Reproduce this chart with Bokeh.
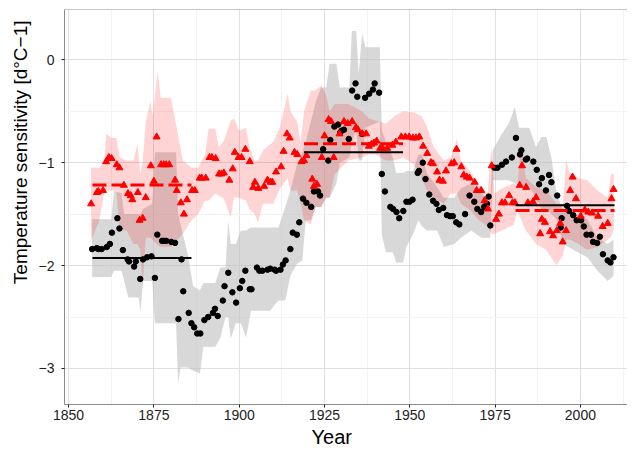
from bokeh.plotting import figure
from bokeh.models import Range1d, FixedTicker, Title, Span
from bokeh.embed import file_html
from bokeh.resources import INLINE

# ---- black series (circles) ----
black_year = [1856.9, 1858.3, 1858.7, 1859.7, 1861.2, 1862.1, 1862.7, 1864.3, 1864.9, 1865.9,
              1867.3, 1867.7, 1869.2, 1869.7, 1871.0, 1871.8, 1873.0, 1874.3, 1875.3, 1876.0,
              1877.4, 1877.9, 1878.6, 1880.1, 1881.2, 1882.2, 1883.1, 1883.6, 1885.2, 1886.0,
              1886.8, 1887.7, 1888.6, 1889.8, 1890.9, 1892.3, 1892.9, 1893.7, 1895.2, 1895.7,
              1896.8, 1898.0, 1899.1, 1900.2, 1900.9, 1901.8, 1903.1, 1903.6, 1905.2, 1905.9,
              1906.8, 1908.3, 1909.1, 1910.4, 1910.8, 1912.1, 1912.8, 1913.6, 1915.0, 1915.7,
              1916.9, 1917.6, 1918.7, 1919.7, 1921.1, 1921.9, 1923.1, 1923.7, 1924.6, 1926.1,
              1926.7, 1927.9, 1929.0, 1929.6, 1930.0, 1930.7, 1932.1, 1933.1, 1934.1, 1934.6,
              1936.0, 1936.9, 1938.1, 1939.2, 1939.7, 1941.0, 1941.8, 1942.7, 1944.3, 1945.1,
              1946.1, 1946.9, 1948.1, 1949.0, 1949.9, 1950.8, 1952.3, 1952.7, 1953.8, 1954.6,
              1955.7, 1956.8, 1957.8, 1958.5, 1959.8, 1960.9, 1961.8, 1962.6, 1963.6, 1964.5,
              1966.2, 1967.5, 1968.9, 1969.8, 1970.9, 1971.8, 1972.6, 1973.1, 1973.6, 1974.8,
              1975.7, 1977.0, 1978.2, 1979.9, 1981.1, 1982.3, 1982.7, 1984.0, 1984.4, 1986.2,
              1987.2, 1987.9, 1988.7, 1989.9, 1990.8, 1991.5, 1993.2, 1994.2, 1994.5, 1996.1,
              1996.7, 1997.9, 1998.9, 2000.2, 2001.0, 2001.8, 2003.1, 2003.7, 2004.9, 2005.7,
              2006.6, 2008.0, 2008.8, 2009.7]
black_val = [-1.84, -1.83, -1.84, -1.84, -1.82, -1.79, -1.68, -1.54, -1.64, -1.85,
             -1.94, -1.96, -2.01, -1.96, -2.13, -1.94, -1.92, -1.91, -2.12, -1.70,
             -1.76, -1.76, -1.76, -1.77, -1.78, -2.52, -1.94, -2.25, -2.46, -2.56,
             -2.60, -2.66, -2.66, -2.53, -2.50, -2.46, -2.42, -2.49, -2.34, -2.20,
             -2.07, -2.26, -2.36, -2.22, -2.15, -2.05, -2.23, -2.23, -2.02, -2.05,
             -2.05, -2.04, -2.03, -2.04, -2.05, -2.04, -1.99, -1.95, -1.84, -1.68,
             -1.70, -1.58, -1.35, -1.39, -1.43, -1.28, -1.28, -1.32, -0.87, -0.98,
             -0.78, -0.65, -0.63, -0.71, -0.69, -0.68, -0.77, -0.30, -0.23, -0.36,
             -0.72, -0.37, -0.33, -0.29, -0.23, -0.32, -1.11, -1.28, -1.43, -1.45,
             -1.48, -1.54, -1.47, -1.38, -1.38, -1.36, -1.10, -1.08, -1.00, -1.16,
             -1.31, -1.37, -1.40, -1.46, -1.44, -1.51, -1.52, -1.52, -1.58, -1.60,
             -1.50, -1.32, -1.38, -1.45, -1.48, -1.43, -1.40, -1.33, -1.61, -1.05,
             -1.05, -1.02, -0.99, -0.95, -0.76, -0.92, -0.88, -0.97, -0.96, -0.99,
             -1.07, -1.21, -1.15, -1.27, -1.12, -1.19, -1.32, -1.63, -1.54, -1.42,
             -1.47, -1.51, -1.56, -1.56, -1.62, -1.70, -1.70, -1.77, -1.78, -1.72,
             -1.89, -1.95, -1.97, -1.92]

# ---- red series (triangles) ----
red_year = [1856.6, 1858.3, 1858.7, 1860.1, 1861.0, 1861.8, 1862.6, 1864.1, 1864.9, 1866.2,
            1867.4, 1868.2, 1868.7, 1870.3, 1870.8, 1871.7, 1872.6, 1874.1, 1875.0, 1875.8,
            1877.1, 1877.9, 1878.6, 1879.5, 1881.2, 1881.7, 1882.9, 1883.8, 1884.7, 1886.2,
            1887.0, 1888.4, 1889.0, 1890.2, 1891.3, 1892.0, 1893.1, 1894.1, 1894.8, 1895.5,
            1897.1, 1898.1, 1898.7, 1899.8, 1900.7, 1901.8, 1903.1, 1904.1, 1904.6, 1905.6,
            1907.3, 1908.3, 1909.2, 1909.7, 1910.8, 1912.3, 1913.0, 1914.0, 1914.8, 1916.2,
            1917.0, 1918.3, 1919.0, 1919.7, 1921.4, 1921.9, 1922.8, 1924.2, 1925.0, 1926.2,
            1926.9, 1927.7, 1929.4, 1930.7, 1931.8, 1933.1, 1934.2, 1934.8, 1936.1, 1937.2,
            1938.0, 1938.8, 1939.5, 1940.3, 1941.3, 1942.0, 1943.4, 1944.9, 1945.9, 1947.5,
            1948.7, 1949.8, 1950.9, 1951.8, 1952.8, 1953.9, 1955.1, 1956.2, 1956.8, 1958.0,
            1958.7, 1959.7, 1960.6, 1962.2, 1963.0, 1963.7, 1965.1, 1965.8, 1966.7, 1967.5,
            1969.0, 1969.6, 1970.9, 1971.9, 1972.9, 1974.0, 1975.3, 1976.1, 1977.0, 1977.9,
            1979.1, 1980.1, 1980.8, 1982.2, 1982.9, 1984.1, 1984.6, 1986.1, 1987.0, 1988.2,
            1988.7, 1989.6, 1991.1, 1992.0, 1993.1, 1994.1, 1994.8, 1995.8, 1997.0, 1997.7,
            1998.7, 2000.1, 2001.3, 2002.3, 2003.4, 2005.2, 2006.5, 2008.0, 2009.1, 2009.7]
red_val = [-1.40, -1.29, -1.28, -1.27, -0.99, -0.95, -0.96, -1.02, -1.05, -1.22,
           -1.30, -1.32, -1.36, -1.29, -1.56, -1.54, -1.34, -1.03, -1.18, -0.75,
           -1.02, -1.02, -1.02, -1.02, -1.17, -1.27, -1.39, -1.50, -1.36, -1.27,
           -1.27, -1.15, -1.15, -1.15, -0.95, -0.95, -0.96, -1.11, -1.11, -1.10,
           -1.17, -1.06, -0.90, -0.95, -0.95, -0.87, -0.99, -1.24, -1.19, -1.25,
           -1.23, -1.17, -1.19, -1.19, -1.09, -1.04, -0.89, -0.72, -0.76, -0.90,
           -0.92, -0.99, -0.98, -0.93, -1.16, -1.23, -1.21, -0.95, -0.74, -0.58,
           -0.60, -0.95, -0.72, -0.60, -0.62, -0.60, -0.66, -0.68, -0.72, -0.72,
           -0.84, -0.82, -0.81, -0.79, -0.86, -0.86, -0.86, -0.83, -0.80, -0.75,
           -0.75, -0.75, -0.76, -0.76, -0.75, -0.84, -0.91, -1.00, -1.01, -1.09,
           -1.17, -1.18, -1.08, -1.01, -1.00, -0.87, -1.04, -1.12, -1.14, -1.15,
           -1.19, -1.27, -1.27, -1.37, -1.45, -1.03, -1.55, -1.50, -1.39, -1.39,
           -1.32, -1.39, -1.39, -1.22, -1.03, -1.24, -1.39, -1.38, -1.34, -1.69,
           -1.55, -1.58, -1.67, -1.71, -1.66, -1.59, -1.77, -1.66, -1.27, -1.14,
           -1.35, -1.52, -1.46, -1.48, -1.49, -1.52, -1.62, -1.59, -1.35, -1.26]

# ---- uncertainty band of the black series ----
gray_year = [1856.9, 1862.5, 1863.3, 1865.5, 1866.3, 1867.5, 1870.5, 1871.1, 1871.8, 1874.5,
             1875.3, 1881.5, 1882.1, 1882.8, 1885.0, 1886.5, 1888.5, 1889.5, 1893.0, 1894.5,
             1896.0, 1896.8, 1897.5, 1899.0, 1900.5, 1902.0, 1903.5, 1909.0, 1911.5, 1913.5,
             1915.0, 1917.0, 1918.5, 1919.5, 1921.0, 1922.5, 1924.0, 1925.5, 1926.5, 1928.5,
             1929.5, 1932.3, 1933.0, 1934.3, 1935.0, 1936.0, 1937.0, 1941.2, 1941.8, 1943.0,
             1945.0, 1946.0, 1948.0, 1949.0, 1951.0, 1952.5, 1953.6, 1955.0, 1958.0, 1960.0,
             1963.0, 1965.0, 1968.0, 1971.0, 1973.6, 1974.3, 1977.0, 1979.0, 1980.8, 1982.0,
             1985.0, 1987.0, 1988.5, 1990.0, 1991.5, 1993.0, 1995.0, 1998.0, 2002.0, 2005.0,
             2008.0, 2009.7]
gray_hi = [-1.55, -1.55, -1.27, -1.30, -1.50, -1.50, -1.50, -1.50, -1.45, -1.40,
           -0.90, -0.90, -1.50, -1.60, -1.90, -2.20, -2.24, -2.17, -2.17, -2.02,
           -2.02, -1.56, -1.79, -1.79, -1.66, -1.66, -1.63, -1.63, -1.63, -1.43,
           -1.27, -1.01, -0.90, -0.80, -0.60, -0.40, -0.27, -0.27, -0.04, -0.04,
           -0.27, -0.27, 0.28, 0.28, -0.14, 0.25, 0.12, 0.12, -0.69, -0.80,
           -0.95, -1.10, -1.10, -1.08, -1.08, -0.92, -0.92, -1.10, -1.24, -1.34,
           -1.34, -1.25, -1.20, -1.30, -1.37, -0.88, -0.72, -0.62, -0.46, -0.66,
           -0.66, -0.85, -0.75, -0.75, -0.95, -1.30, -1.47, -1.50, -1.55, -1.73,
           -1.79, -1.75]
gray_lo = [-2.11, -2.11, -2.05, -2.05, -2.15, -2.31, -2.31, -2.45, -2.15, -2.15,
           -2.56, -2.56, -3.15, -2.99, -2.99, -3.02, -3.05, -2.79, -2.79, -2.70,
           -2.50, -2.50, -2.71, -2.56, -2.56, -2.70, -2.44, -2.44, -2.34, -2.34,
           -2.10, -1.98, -1.95, -1.56, -1.56, -1.43, -1.43, -1.34, -1.34, -1.20,
           -1.00, -0.95, -0.82, -0.66, -0.98, -0.98, -0.66, -0.60, -1.70, -1.87,
           -1.87, -1.97, -1.97, -1.82, -1.69, -1.56, -1.62, -1.66, -1.66, -1.82,
           -1.79, -1.73, -1.66, -1.73, -1.73, -1.17, -1.17, -1.17, -1.20, -1.24,
           -1.24, -1.34, -1.45, -1.45, -1.50, -1.55, -1.79, -1.85, -1.92, -2.05,
           -2.15, -2.10]

# ---- uncertainty band of the red series ----
pink_year = [1856.6, 1859.0, 1860.4, 1861.0, 1862.5, 1864.0, 1865.0, 1867.0, 1869.0, 1870.2,
             1871.0, 1871.7, 1872.6, 1874.0, 1874.6, 1876.1, 1877.0, 1880.0, 1883.5, 1886.0,
             1888.0, 1890.0, 1891.0, 1893.0, 1894.0, 1895.5, 1897.5, 1898.5, 1900.0, 1902.0,
             1903.0, 1904.5, 1905.5, 1907.0, 1910.0, 1912.0, 1914.2, 1915.0, 1917.0, 1918.0,
             1919.0, 1921.0, 1922.3, 1924.0, 1925.5, 1926.5, 1928.0, 1932.0, 1936.0, 1938.0,
             1940.0, 1943.0, 1945.5, 1948.0, 1951.0, 1953.5, 1955.0, 1957.0, 1960.0, 1962.0,
             1963.8, 1965.0, 1968.0, 1970.0, 1972.8, 1973.9, 1974.8, 1977.0, 1980.5, 1981.5,
             1982.6, 1984.0, 1987.0, 1990.0, 1993.0, 1994.9, 1995.8, 1997.0, 1999.5, 2002.0,
             2005.0, 2008.0, 2009.0, 2009.8]
pink_hi = [-1.05, -1.05, -1.00, -0.72, -0.76, -0.76, -0.95, -0.98, -0.98, -0.82,
           -1.11, -1.00, -0.60, -0.40, -0.55, -0.11, -0.37, -0.37, -0.98, -1.05,
           -1.05, -0.92, -0.67, -0.67, -0.85, -0.79, -0.59, -0.57, -0.69, -0.66,
           -0.85, -0.98, -0.98, -0.88, -0.80, -0.65, -0.33, -0.50, -0.60, -0.80,
           -0.50, -0.30, -0.30, -0.25, -0.35, -0.50, -0.43, -0.43, -0.50, -0.57,
           -0.59, -0.62, -0.55, -0.50, -0.51, -0.55, -0.65, -0.85, -0.98, -0.95,
           -0.77, -0.98, -1.10, -1.20, -1.30, -0.85, -1.30, -1.25, -1.20, -1.24,
           -0.82, -1.15, -1.24, -1.27, -1.40, -1.40, -0.98, -1.11, -1.15, -1.17,
           -1.27, -1.34, -1.11, -1.11]
pink_lo = [-1.76, -1.56, -1.30, -1.27, -1.27, -1.27, -1.66, -1.66, -1.79, -1.79,
           -1.85, -2.21, -1.73, -1.73, -1.75, -1.80, -1.82, -1.82, -1.69, -1.56,
           -1.50, -1.37, -1.37, -1.30, -1.32, -1.35, -1.53, -1.34, -1.34, -1.37,
           -1.45, -1.50, -1.58, -1.40, -1.40, -1.25, -1.15, -1.27, -1.27, -1.40,
           -1.56, -1.60, -1.43, -1.43, -1.34, -1.34, -1.11, -0.98, -0.95, -0.92,
           -0.92, -0.98, -0.98, -0.95, -1.01, -1.15, -1.27, -1.34, -1.40, -1.30,
           -1.30, -1.40, -1.47, -1.55, -1.62, -1.69, -1.69, -1.66, -1.60, -1.47,
           -1.55, -1.66, -1.79, -1.85, -2.00, -1.90, -1.75, -1.75, -1.79, -1.85,
           -1.82, -1.75, -1.72, -1.65]

# ---- 30-year period means ----
period_start = [1857, 1919, 1981]
period_end = [1886, 1948, 2010]
black_mean = [-1.926, -0.900, -1.415]
red_mean = [-1.217, -0.816, -1.466]

x_ticks = [1850, 1875, 1900, 1925, 1950, 1975, 2000]
x_minor = [1862.5, 1887.5, 1912.5, 1937.5, 1962.5, 1987.5, 2012.5]
y_ticks = [-3, -2, -1, 0]
y_tick_labels = ["\u22123", "\u22122", "\u22121", "0"]
y_minor = [-2.5, -1.5, -0.5]

FONT = "Liberation Sans"
Y_TOP = 0.488

p = figure(width=627, height=449,
           x_range=Range1d(1848.8, 2013.8), y_range=Range1d(-3.35, Y_TOP),
           output_backend="svg", toolbar_location=None,
           min_border_left=64, min_border_right=0, min_border_top=9, min_border_bottom=44)
p.background_fill_color = "white"
p.border_fill_color = "white"
p.outline_line_color = None

# axes
p.xaxis.ticker = FixedTicker(ticks=x_ticks, minor_ticks=x_minor)
p.yaxis.ticker = FixedTicker(ticks=y_ticks, minor_ticks=y_minor)
p.yaxis.major_label_overrides = {t: s for t, s in zip(y_ticks, y_tick_labels)}
for ax in (p.xaxis, p.yaxis):
    ax.axis_line_color = "#8C8C8C"
    ax.major_tick_line_color = "#222222"
    ax.major_tick_in = 0
    ax.major_tick_out = 3
    ax.minor_tick_line_color = None
    ax.major_label_text_font = FONT
    ax.major_label_text_font_size = "14px"
    ax.major_label_text_color = "#222222"
p.xaxis.major_label_standoff = 1
p.yaxis.major_label_standoff = 6

p.xgrid.grid_line_color = "#E0E0E0"
p.ygrid.grid_line_color = "#E0E0E0"
p.xgrid.minor_grid_line_color = "#F3F3F3"
p.ygrid.minor_grid_line_color = "#F3F3F3"

# panel top border
p.add_layout(Span(location=Y_TOP, dimension="width", line_color="#8C8C8C", line_width=1))

# ribbons
p.varea(x=gray_year, y1=gray_lo, y2=gray_hi, fill_color="#BEBEBE", fill_alpha=0.6)
p.varea(x=pink_year, y1=pink_lo, y2=pink_hi, fill_color="red", fill_alpha=0.17)

# points
p.scatter(black_year, black_val, marker="circle", size=5.5, fill_color="black", line_color="black")
p.scatter(red_year, red_val, marker="triangle", size=7, fill_color="red", line_color="red")

# period means
p.segment(x0=period_start, y0=black_mean, x1=period_end, y1=black_mean,
          line_color="black", line_width=2)
p.segment(x0=period_start, y0=red_mean, x1=period_end, y1=red_mean,
          line_color="red", line_width=3, line_dash="14 5")

# axis titles
p.add_layout(Title(text="Year", align="left", offset=247, text_font=FONT,
                   text_font_size="20px", text_font_style="normal", text_color="black",
                   standoff=3), "below")
p.add_layout(Title(text="Temperature sensitivity [d\u00b0C\u22121]", align="right", offset=11,
                   text_font=FONT, text_font_size="19px", text_font_style="normal",
                   text_color="black", standoff=9), "left")

open("out.html", "w").write(file_html(p, INLINE))
